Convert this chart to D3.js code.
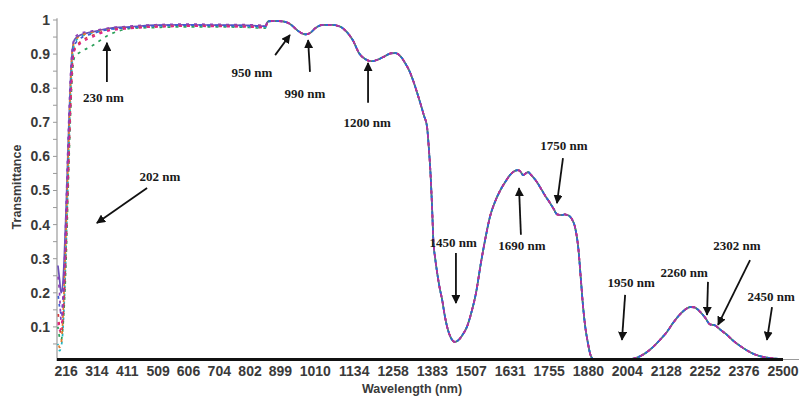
<!DOCTYPE html>
<html>
<head>
<meta charset="utf-8">
<script src="https://cdn.jsdelivr.net/npm/d3@7"></script>
<style>
  body { margin: 0; background: #fff; }
  svg { display: block; }
</style>
</head>
<body>
<script>
// tick labels on the axes
const xTickValues = [216, 314, 411, 509, 606, 704, 802, 899, 1010, 1134, 1258, 1383, 1507, 1631, 1755, 1880, 2004, 2128, 2252, 2376, 2500];
const yTickValues = [0.1, 0.2, 0.3, 0.4, 0.5, 0.6, 0.7, 0.8, 0.9, 1];

// UV-Vis part, one row per sample (they spread out below 350 nm)
const uvWavelengths = [190, 195, 200, 205, 210, 215, 220, 225, 230, 235, 240, 245, 260, 300, 350, 420, 500, 600, 700, 800, 850];
const sample1 = [0.28, 0.24, 0.20, 0.22, 0.30, 0.42, 0.56, 0.70, 0.82, 0.90, 0.935, 0.945, 0.955, 0.965, 0.975, 0.98, 0.985, 0.986, 0.985, 0.984, 0.982];
const sample2 = [0.10, 0.07, 0.06, 0.09, 0.16, 0.27, 0.42, 0.58, 0.72, 0.83, 0.88, 0.895, 0.905, 0.925, 0.955, 0.975, 0.978, 0.98, 0.98, 0.978, 0.976];
const sample3 = [0.05, 0.03, 0.04, 0.08, 0.17, 0.30, 0.46, 0.62, 0.77, 0.87, 0.92, 0.935, 0.95, 0.962, 0.972, 0.978, 0.982, 0.984, 0.983, 0.98, 0.978];
const sample4 = [0.06, 0.04, 0.05, 0.11, 0.22, 0.36, 0.52, 0.67, 0.81, 0.90, 0.93, 0.94, 0.952, 0.965, 0.975, 0.98, 0.984, 0.986, 0.986, 0.985, 0.983];
const sample5 = [0.15, 0.10, 0.08, 0.11, 0.19, 0.31, 0.45, 0.60, 0.74, 0.85, 0.905, 0.92, 0.935, 0.955, 0.97, 0.977, 0.98, 0.982, 0.982, 0.98, 0.978];
const sample6 = [0.20, 0.16, 0.14, 0.17, 0.26, 0.38, 0.53, 0.67, 0.80, 0.88, 0.92, 0.93, 0.945, 0.96, 0.972, 0.978, 0.983, 0.985, 0.984, 0.983, 0.981];
const sample7 = [0.12, 0.09, 0.10, 0.14, 0.23, 0.34, 0.48, 0.62, 0.75, 0.85, 0.90, 0.915, 0.93, 0.95, 0.968, 0.975, 0.98, 0.982, 0.981, 0.98, 0.978];
const sample8 = [0.25, 0.20, 0.12, 0.16, 0.27, 0.42, 0.58, 0.72, 0.84, 0.91, 0.94, 0.95, 0.96, 0.968, 0.976, 0.982, 0.986, 0.988, 0.987, 0.986, 0.984];
const uvSamples = [sample1, sample2, sample3, sample4, sample5, sample6, sample7, sample8];

// NIR part, the samples overlap almost exactly here
const nirWavelengths = [860, 880, 905, 930, 950, 965, 980, 995, 1010, 1030, 1060, 1090, 1110, 1130, 1150, 1170, 1190, 1210, 1230, 1250, 1265, 1280, 1296, 1310, 1321, 1340, 1356, 1366, 1372, 1377, 1382, 1386, 1392, 1398, 1406, 1414, 1422, 1430, 1442, 1455, 1468, 1480, 1493, 1508, 1522, 1538, 1553, 1567, 1583, 1599, 1615, 1630, 1645, 1656, 1664, 1672, 1680, 1688, 1698, 1712, 1726, 1742, 1758, 1770, 1780, 1795, 1805, 1812, 1820, 1828, 1838, 1848, 1856, 1863, 1870, 1878, 1886, 1895, 1920, 1960, 2000, 2019, 2040, 2060, 2080, 2108, 2130, 2150, 2170, 2190, 2204, 2218, 2232, 2245, 2255, 2262, 2268, 2276, 2284, 2290, 2300, 2320, 2341, 2370, 2395, 2420, 2449, 2475, 2500];
const nirValues = [0.996, 0.997, 0.996, 0.988, 0.972, 0.962, 0.958, 0.963, 0.976, 0.985, 0.986, 0.98, 0.965, 0.94, 0.902, 0.885, 0.879, 0.884, 0.893, 0.902, 0.903, 0.895, 0.874, 0.85, 0.824, 0.77, 0.72, 0.686, 0.62, 0.55, 0.45, 0.355, 0.30, 0.26, 0.215, 0.18, 0.135, 0.10, 0.068, 0.056, 0.063, 0.078, 0.10, 0.145, 0.20, 0.29, 0.365, 0.425, 0.468, 0.50, 0.525, 0.545, 0.557, 0.56, 0.555, 0.545, 0.55, 0.554, 0.545, 0.53, 0.51, 0.485, 0.463, 0.445, 0.43, 0.428, 0.43, 0.428, 0.425, 0.415, 0.39, 0.33, 0.24, 0.16, 0.10, 0.055, 0.02, 0.006, 0.003, 0.003, 0.004, 0.006, 0.012, 0.022, 0.036, 0.062, 0.085, 0.112, 0.135, 0.152, 0.158, 0.157, 0.148, 0.135, 0.123, 0.112, 0.107, 0.106, 0.104, 0.10, 0.092, 0.078, 0.06, 0.04, 0.026, 0.016, 0.01, 0.007, 0.006];

// band annotations: label, text anchor, arrow tail and arrow tip as [nm, T]
const annotLabels = ["230 nm", "202 nm", "950 nm", "990 nm", "1200 nm", "1450 nm", "1690 nm", "1750 nm", "1950 nm", "2260 nm", "2302 nm", "2450 nm"];
const annotText = [[335, 0.774], [515, 0.540], [808, 0.845], [977, 0.786], [1175, 0.701], [1449, 0.349], [1668, 0.340], [1802, 0.633], [2016, 0.229], [2185, 0.261], [2353, 0.340], [2462, 0.188]];
const annotFrom = [[346, 0.818], [474, 0.507], [882, 0.897], [993, 0.848], [1178, 0.757], [1458, 0.317], [1665, 0.370], [1799, 0.595], [1997, 0.194], [2261, 0.232], [2395, 0.296], [2465, 0.158]];
const annotTo = [[346, 0.933], [314, 0.405], [929, 0.956], [987, 0.941], [1178, 0.874], [1458, 0.170], [1659, 0.507], [1780, 0.463], [1987, 0.062], [2258, 0.135], [2293, 0.106], [2449, 0.062]];

const colors = ["#6b4fb8", "#2ca05a", "#1fb5c0", "#e07b2a", "#d63a3a", "#3b5bd6", "#e0218a", "#8e3fb5"];

const width = 799, height = 396;
const plotLeft = 57, plotRight = 783, plotTop = 20, plotBottom = 361;

const svg = d3.select("body")
    .append("svg")
    .attr("width", width)
    .attr("height", height);

const x = d3.scaleLinear().domain([187, 2500]).range([plotLeft, plotRight]);
const y = d3.scaleLinear().domain([0, 1]).range([plotBottom, plotTop]);

// y axis: thin gray line with small outward ticks every 0.05
svg.append("line")
    .attr("x1", plotLeft).attr("x2", plotLeft)
    .attr("y1", y(1.005)).attr("y2", y(0))
    .attr("stroke", "#9a9a9a").attr("stroke-width", 1.2);

const minorTicks = d3.range(1, 21).map(d => d * 0.05);
svg.selectAll(".ytick")
    .data(minorTicks)
    .enter().append("line")
    .attr("x1", plotLeft - 4).attr("x2", plotLeft)
    .attr("y1", d => y(d)).attr("y2", d => y(d))
    .attr("stroke", "#9a9a9a");

svg.selectAll(".ylab")
    .data(yTickValues)
    .enter().append("text")
    .attr("x", plotLeft - 7)
    .attr("y", d => y(d))
    .attr("dy", "0.35em")
    .attr("text-anchor", "end")
    .attr("font-family", "'Liberation Sans', Arial, sans-serif")
    .attr("font-weight", "bold")
    .attr("font-size", 14)
    .attr("fill", "#3a3a3a")
    .text(d => d);

// the spectra
const line = d3.line()
    .x(d => x(d[0]))
    .y(d => y(d[1]))
    .curve(d3.curveMonotoneX);

uvSamples.forEach((sample, i) => {
    const pts = uvWavelengths.map((w, j) => [w, sample[j]])
        .concat(nirWavelengths.map((w, j) => [w, nirValues[j]]));
    svg.append("path")
        .datum(pts)
        .attr("d", line)
        .attr("fill", "none")
        .attr("stroke", colors[i])
        .attr("stroke-width", 1.7)
        .attr("stroke-dasharray", i === 0 ? null : "3 5")
        .attr("stroke-dashoffset", i);
});

// x axis: thin gray base plus the heavy black line
svg.append("line")
    .attr("x1", plotLeft).attr("x2", width)
    .attr("y1", y(0) - 1.5).attr("y2", y(0) - 1.5)
    .attr("stroke", "#9a9a9a");
svg.append("line")
    .attr("x1", plotLeft).attr("x2", plotRight)
    .attr("y1", y(0) - 1.5).attr("y2", y(0) - 1.5)
    .attr("stroke", "#111").attr("stroke-width", 3);

svg.selectAll(".xlab")
    .data(xTickValues)
    .enter().append("text")
    .attr("x", d => x(d))
    .attr("y", 371)
    .attr("dy", "0.35em")
    .attr("text-anchor", "middle")
    .attr("font-family", "'Liberation Sans', Arial, sans-serif")
    .attr("font-weight", "bold")
    .attr("font-size", 14)
    .attr("fill", "#3a3a3a")
    .text(d => d);

// axis titles
svg.append("text")
    .attr("x", 412).attr("y", 389)
    .attr("dy", "0.35em")
    .attr("text-anchor", "middle")
    .attr("font-family", "'Liberation Sans', Arial, sans-serif")
    .attr("font-weight", "bold")
    .attr("font-size", 12.5)
    .attr("fill", "#3a3a3a")
    .text("Wavelength (nm)");

svg.append("text")
    .attr("transform", "translate(17,187) rotate(-90)")
    .attr("dy", "0.35em")
    .attr("text-anchor", "middle")
    .attr("font-family", "'Liberation Sans', Arial, sans-serif")
    .attr("font-weight", "bold")
    .attr("font-size", 12.5)
    .attr("fill", "#3a3a3a")
    .text("Transmittance");

// arrows and labels
svg.append("defs").append("marker")
    .attr("id", "arrowhead")
    .attr("viewBox", "0 0 10 10")
    .attr("refX", 9).attr("refY", 5)
    .attr("markerWidth", 5).attr("markerHeight", 5)
    .attr("markerUnits", "strokeWidth")
    .attr("orient", "auto")
    .append("path")
    .attr("d", "M0,0L10,5L0,10z")
    .attr("fill", "#111");

annotLabels.forEach((label, i) => {
    svg.append("line")
        .attr("x1", x(annotFrom[i][0])).attr("y1", y(annotFrom[i][1]))
        .attr("x2", x(annotTo[i][0])).attr("y2", y(annotTo[i][1]))
        .attr("stroke", "#111")
        .attr("stroke-width", 1.8)
        .attr("marker-end", "url(#arrowhead)");
    svg.append("text")
        .attr("x", x(annotText[i][0]))
        .attr("y", y(annotText[i][1]))
        .attr("dy", "0.35em")
        .attr("text-anchor", "middle")
        .attr("font-family", "'Liberation Serif', 'Times New Roman', serif")
        .attr("font-weight", "bold")
        .attr("font-size", 13)
        .attr("fill", "#1a1a1a")
        .text(label);
});
</script>
</body>
</html>
